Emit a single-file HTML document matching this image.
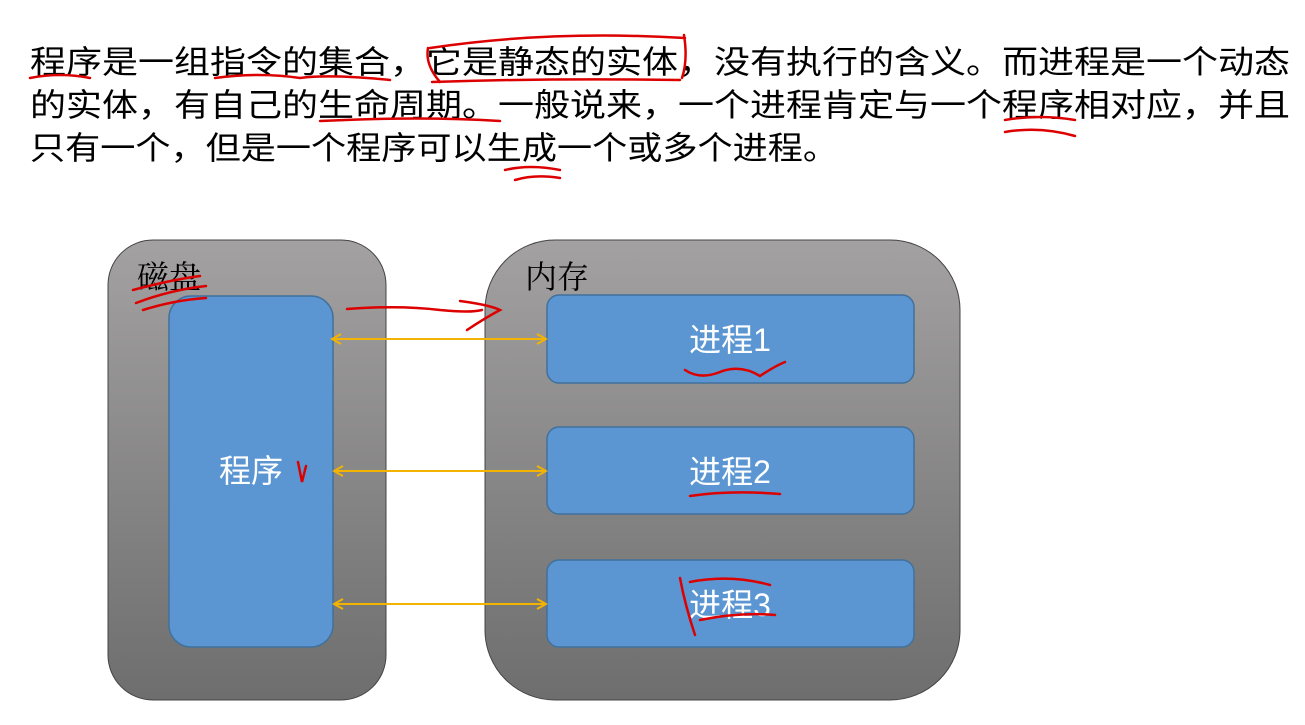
<!DOCTYPE html>
<html><head><meta charset="utf-8"><style>
html,body{margin:0;padding:0;background:#fff;width:1305px;height:725px;overflow:hidden}
</style></head><body>
<svg width="1305" height="725" xmlns="http://www.w3.org/2000/svg" style="font-family:'Liberation Sans','Noto Sans CJK SC',sans-serif">
<defs>
<linearGradient id="g" x1="0" y1="0" x2="0" y2="1"><stop offset="0" stop-color="#a3a1a1"/><stop offset="1" stop-color="#6e6e6e"/></linearGradient>
<marker id="a" markerWidth="12" markerHeight="12" refX="10" refY="6" orient="auto-start-reverse" markerUnits="userSpaceOnUse"><path d="M1,1 L10,6 L1,11" fill="none" stroke="#f2b400" stroke-width="2"/></marker>
</defs>
<g font-size="32" fill="#000">
<text x="30" y="73" textLength="1260" lengthAdjust="spacingAndGlyphs">程序是一组指令的集合，它是静态的实体，没有执行的含义。而进程是一个动态</text>
<text x="30" y="116" textLength="1260" lengthAdjust="spacingAndGlyphs">的实体，有自己的生命周期。一般说来，一个进程肯定与一个程序相对应，并且</text>
<text x="30" y="159" textLength="808" lengthAdjust="spacingAndGlyphs">只有一个，但是一个程序可以生成一个或多个进程。</text>
</g>
<rect x="108" y="240" width="278" height="460" rx="45" fill="url(#g)" stroke="#444" stroke-width="1"/>
<rect x="485" y="240" width="475" height="460" rx="70" fill="url(#g)" stroke="#444" stroke-width="1"/>
<text x="137" y="288" font-size="32" style="font-family:'Liberation Serif','Noto Serif CJK SC',serif">磁盘</text>
<text x="525" y="288" font-size="32" style="font-family:'Liberation Serif','Noto Serif CJK SC',serif">内存</text>
<rect x="169" y="296" width="164" height="351" rx="22" fill="#5b96d2" stroke="#41719c" stroke-width="1.5"/>
<rect x="547" y="295" width="367" height="88" rx="12" fill="#5b96d2" stroke="#41719c" stroke-width="1.5"/>
<rect x="547" y="427" width="367" height="87" rx="12" fill="#5b96d2" stroke="#41719c" stroke-width="1.5"/>
<rect x="547" y="560" width="367" height="87" rx="12" fill="#5b96d2" stroke="#41719c" stroke-width="1.5"/>
<g fill="#fff" font-size="32" text-anchor="middle">
<text x="251" y="482">程序</text>
<text x="730" y="351">进程1</text>
<text x="730" y="483">进程2</text>
<text x="730" y="616">进程3</text>
</g>
<g stroke="#f2b400" stroke-width="2" marker-start="url(#a)" marker-end="url(#a)">
<line x1="332" y1="339" x2="546" y2="339"/>
<line x1="334" y1="471" x2="546" y2="471"/>
<line x1="334" y1="604" x2="546" y2="604"/>
</g>
<g stroke="#d00" stroke-width="2.5" fill="none" stroke-linecap="round">
<path d="M30 78 Q60 72 90 78"/>
<path d="M215 78 Q260 72 300 78 Q330 74 390 80"/>
<path d="M430 48 Q550 30 685 38 M428 48 Q425 65 440 82 M684 35 Q688 60 682 78 M432 82 Q550 78 680 80"/>
<path d="M320 121 Q420 116 500 121"/>
<path d="M1005 120 Q1040 114 1075 120 M1005 132 Q1040 126 1075 136"/>
<path d="M505 170 Q530 164 560 170 M515 180 Q535 174 560 178"/>
<path d="M133 290 Q170 280 200 276 M136 303 Q170 290 206 286 M143 310 Q175 300 206 298"/>
<path d="M347 309 Q400 305 440 310 Q470 313 482 310 M460 301 Q490 305 500 310 Q485 318 467 330"/>
<path d="M685 370 Q700 380 720 372 Q740 364 760 376 Q775 366 785 362"/>
<path d="M690 496 Q730 490 780 494"/>
<path d="M680 578 Q685 605 695 635 M690 582 Q730 574 770 585 M700 620 Q740 612 775 615"/>
<path d="M298 462 L302 482 L306 466"/>
</g>
</svg>
</body></html>
